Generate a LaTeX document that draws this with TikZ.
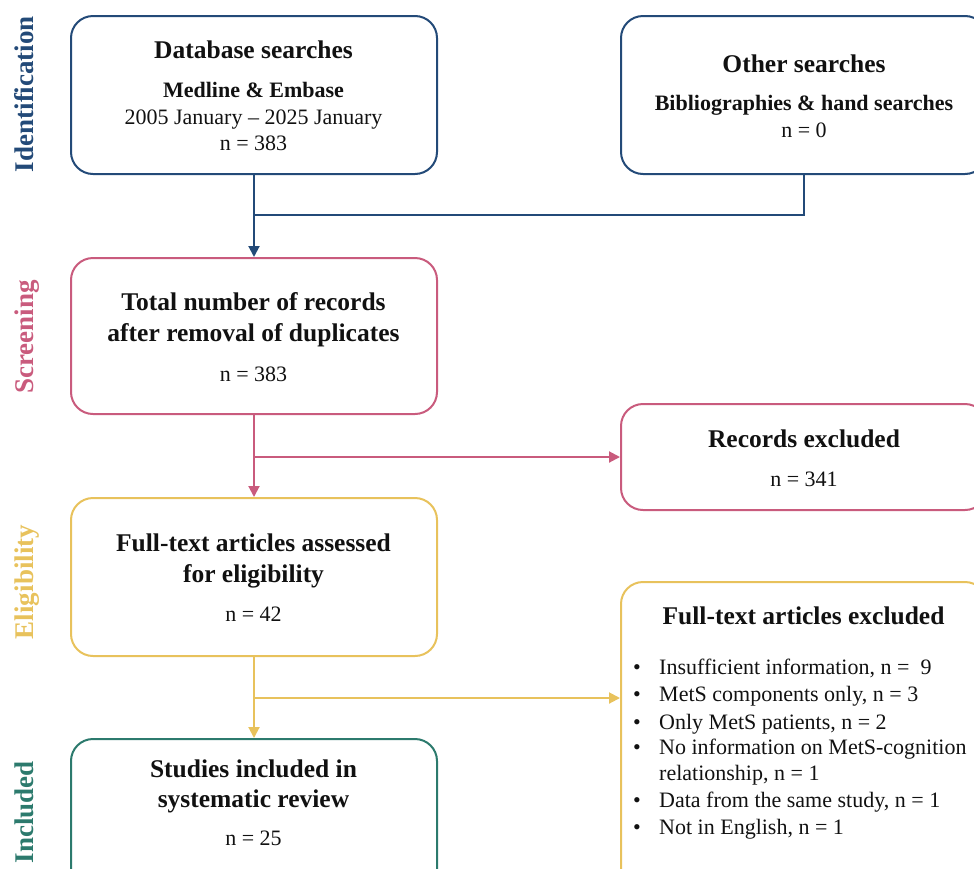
\documentclass[tikz,border=0pt]{standalone}
\usepackage{fontspec}
\setmainfont{Liberation Serif}
\usetikzlibrary{arrows.meta}

\definecolor{idcol}{HTML}{234A78}
\definecolor{sccol}{HTML}{C95B7D}
\definecolor{elcol}{HTML}{E8C25C}
\definecolor{incol}{HTML}{2C7A6D}
\definecolor{ink}{HTML}{111111}

\tikzset{
  stage/.style={draw=#1, line width=2pt, rounded corners=22pt, minimum width=366pt, inner sep=0pt},
  flow/.style={draw=#1, line width=2pt, -{Triangle[length=11pt,width=11pt]}},
  link/.style={draw=#1, line width=2pt},
  phase/.style={text=#1, rotate=90, anchor=base, inner sep=0pt, font=\fontsize{27}{30}\selectfont\bfseries},
  ttl/.style={anchor=base, inner sep=0pt, text=ink, font=\fontsize{25.5}{30}\selectfont\bfseries},
  sub/.style={anchor=base, inner sep=0pt, text=ink, font=\fontsize{22}{26}\selectfont\bfseries},
  txt/.style={anchor=base, inner sep=0pt, text=ink, font=\fontsize{22}{26}\selectfont},
}

\begin{document}
\begin{tikzpicture}[x=1pt, y=-1pt]
  \useasboundingbox (0,0) rectangle (974,868);

  % phase labels
  \node[phase=idcol] (pid) at (33,94) {Identification};
  \node[phase=sccol] (psc) at (33,337) {Screening};
  \node[phase=elcol] (pel) at (33,582) {Eligibility};
  \node[phase=incol] (pin) at (33,812) {Included};

  % boxes
  \node[stage=idcol, minimum height=158pt] (db)   at (254,95)  {};
  \node[stage=idcol, minimum height=158pt] (oth)  at (804,95)  {};
  \node[stage=sccol, minimum height=156pt] (scr)  at (254,336) {};
  \node[stage=sccol, minimum height=106pt] (rex)  at (804,457) {};
  \node[stage=elcol, minimum height=158pt] (elig) at (254,577) {};
  \node[stage=elcol, minimum height=308pt] (fex)  at (804,736) {};
  \node[stage=incol, minimum height=158pt] (incl) at (254,818) {};

  % database searches
  \node[ttl] (dbt) at (253.5,58)  {Database searches};
  \node[sub] (dbs) at (253.5,97)  {Medline \& Embase};
  \node[txt] (dbd) at (253.5,124) {2005 January -- 2025 January};
  \node[txt] (dbn) at (253.5,150) {n = 383};

  % other searches
  \node[ttl] (otht) at (804,72)  {Other searches};
  \node[sub] (oths) at (804,110) {Bibliographies \& hand searches};
  \node[txt] (othn) at (804,137) {n = 0};

  % screening
  \node[ttl] (scrt1) at (253.5,310) {Total number of records};
  \node[ttl] (scrt2) at (253.5,341) {after removal of duplicates};
  \node[txt] (scrn)  at (253.5,381) {n = 383};

  % records excluded
  \node[ttl] (rext) at (804,447) {Records excluded};
  \node[txt] (rexn) at (804,486) {n = 341};

  % eligibility
  \node[ttl] (elt1) at (253.5,551) {Full-text articles assessed};
  \node[ttl] (elt2) at (253.5,582) {for eligibility};
  \node[txt] (eln)  at (253.5,621) {n = 42};

  % full-text exclusions
  \node[ttl] (fext) at (803.5,624) {Full-text articles excluded};
  \foreach \yy/\lbl [count=\i] in {
      674/{Insufficient information, n =\ \ 9},
      701/{MetS components only, n = 3},
      729/{Only MetS patients, n = 2},
      754/{No information on MetS-cognition},
      807/{Data from the same study, n = 1},
      834/{Not in English, n = 1}}{
    \node[txt] (bul\i) at (637,\yy) {\textbullet};
    \node[txt, anchor=base west] (item\i) at (659,\yy) {\lbl};
  }
  \node[txt, anchor=base west] (item4b) at (659,780) {relationship, n = 1};

  % included
  \node[ttl] (inct1) at (253.5,777) {Studies included in};
  \node[ttl] (inct2) at (253.5,807) {systematic review};
  \node[txt] (incn)  at (253.5,845) {n = 25};

  % connectors
  \coordinate (j1) at (254,215);
  \coordinate (j2) at (254,457);
  \coordinate (j3) at (254,698);

  \draw[flow=idcol] (db.south) -- (scr.north);
  \draw[link=idcol] (oth.south) |- (j1);

  \draw[flow=sccol] (scr.south) -- (elig.north);
  \draw[flow=sccol] (j2) -- (rex.west);

  \draw[flow=elcol] (elig.south) -- (incl.north);
  \draw[flow=elcol] (j3) -- (j3 -| fex.west);
\end{tikzpicture}
\end{document}
